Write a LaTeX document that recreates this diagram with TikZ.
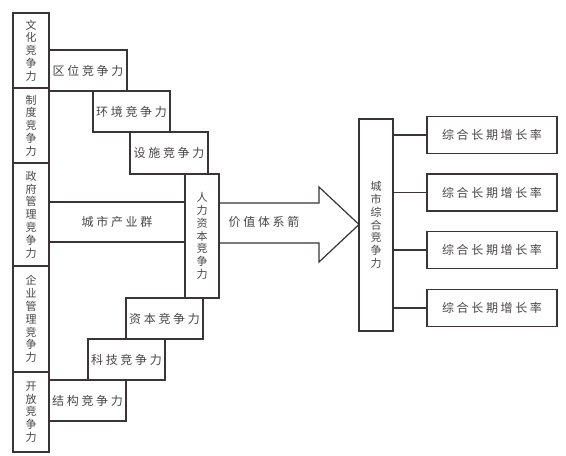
\documentclass[tikz,border=0pt]{standalone}
\usepackage{fontspec}
\newfontfamily\hcjk[LetterSpace=22]{Noto Sans CJK SC}
\newfontfamily\vcjk{Noto Sans CJK SC}
\definecolor{ln}{HTML}{3A3434}
\definecolor{tx}{HTML}{4A4646}
\begin{document}
\begin{tikzpicture}[x=1pt,y=-1pt,
  box/.style={draw=ln,line width=1.2pt,fill=white,inner sep=0pt,outer sep=0pt,text=tx},
  hbox/.style={box,font=\fontsize{12}{14}\hcjk},
  vbox/.style={box,align=center,font=\fontsize{11}{12.8}\selectfont\vcjk},
  conn/.style={draw=ln,line width=1.2pt}]
\useasboundingbox (0,0) rectangle (566,456);
% left column
\node[vbox,minimum width=36,minimum height=75] (cult) at (31,50.5) {文\\化\\竞\\争\\力};
\node[vbox,minimum width=36,minimum height=75] (inst) at (31,125.5) {制\\度\\竞\\争\\力};
\node[vbox,minimum width=36,minimum height=103] (gov) at (31,214.5) {政\\府\\管\\理\\竞\\争\\力};
\node[vbox,minimum width=36,minimum height=106] (ent) at (31,319) {企\\业\\管\\理\\竞\\争\\力};
\node[vbox,minimum width=36,minimum height=80] (open) at (31,412) {开\\放\\竞\\争\\力};
% arrow
\coordinate (a1) at (219,203);
\coordinate (a2) at (319,203);
\coordinate (a3) at (319,187);
\coordinate (a4) at (359,224.5);
\coordinate (a5) at (319,262);
\coordinate (a6) at (319,243);
\coordinate (a7) at (219,243);
\draw[conn,fill=white,line join=miter] (a1) -- (a2) -- (a3) -- (a4) -- (a5) -- (a6) -- (a7);
\node[text=tx,font=\fontsize{12}{14}\hcjk,inner sep=0pt] (arrowtext) at (264,222) {价值体系箭};
% staircase top
\node[hbox,minimum width=78,minimum height=41] (qw) at (88,70.5) {区位竞争力};
\node[hbox,minimum width=77,minimum height=41] (hj) at (131.5,111.5) {环境竞争力};
\node[hbox,minimum width=78,minimum height=42] (ss) at (169,153) {设施竞争力};
\node[hbox,minimum width=136,minimum height=40] (cy) at (117,222) {城市产业群};
\node[vbox,minimum width=34,minimum height=124] (rl) at (202,236) {人\\力\\资\\本\\竞\\争\\力};
% staircase bottom
\node[hbox,minimum width=77,minimum height=41] (zb) at (164.5,318.5) {资本竞争力};
\node[hbox,minimum width=77,minimum height=41] (kj) at (126.5,359.5) {科技竞争力};
\node[hbox,minimum width=77,minimum height=41] (jg) at (87.5,400.5) {结构竞争力};
% right part
\node[vbox,minimum width=34,minimum height=212] (cs) at (376,225) {城\\市\\综\\合\\竞\\争\\力};
\node[hbox,minimum width=130,minimum height=37] (r1) at (492,135) {综合长期增长率};
\node[hbox,minimum width=130,minimum height=37] (r2) at (492,192.5) {综合长期增长率};
\node[hbox,minimum width=130,minimum height=37] (r3) at (492,250) {综合长期增长率};
\node[hbox,minimum width=130,minimum height=37] (r4) at (492,308) {综合长期增长率};
\draw[conn] (cs.east |- r1.west) -- (r1.west);
\draw[conn] (cs.east |- r2.west) -- (r2.west);
\draw[conn] (cs.east |- r3.west) -- (r3.west);
\draw[conn] (cs.east |- r4.west) -- (r4.west);
\end{tikzpicture}
\end{document}
